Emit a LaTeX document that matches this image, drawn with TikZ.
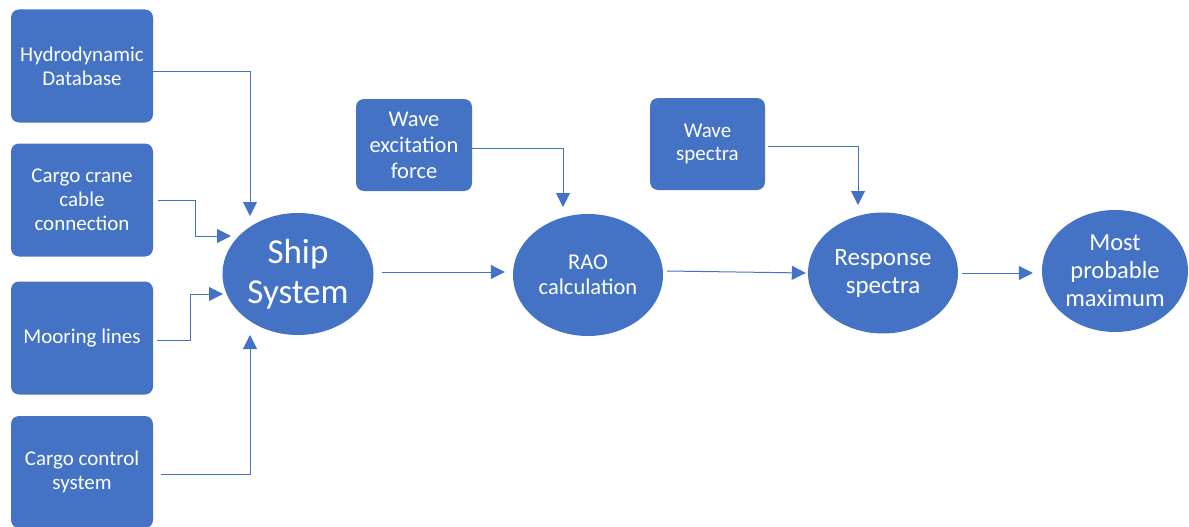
\documentclass[tikz,border=0pt]{standalone}
\usepackage{fontspec}
\setmainfont{Carlito}
\usetikzlibrary{arrows.meta,shapes.geometric}
\definecolor{ofblue}{HTML}{4472C4}
\begin{document}
\begin{tikzpicture}[x=1pt,y=-1pt,
  box/.style={fill=ofblue, rounded corners=8pt, text=white, align=center,
    inner sep=0pt, font=\fontsize{21}{24}\selectfont},
  oval/.style={ellipse, fill=ofblue, text=white, align=center, inner sep=0pt,
    font=\fontsize{25}{28}\selectfont},
  arr/.style={draw=ofblue, line width=1pt, -{Triangle[length=14pt,width=14pt]}}]
\useasboundingbox (0,0) rectangle (1189,527);

% input boxes on the left
\node[box, minimum width=142pt, minimum height=113pt] (hydro) at (82,66) {Hydrodynamic\\Database};
\node[box, minimum width=142pt, minimum height=113pt] (crane) at (82,200) {Cargo crane\\cable\\connection};
\node[box, minimum width=142pt, minimum height=113pt] (moor) at (82,338) {Mooring lines};
\node[box, minimum width=142pt, minimum height=112pt] (ctrl) at (82,472) {Cargo control\\system};

% upper input boxes
\node[box, minimum width=116pt, minimum height=92pt, font=\fontsize{22.5}{26}\selectfont] (wexc) at (414,145) {Wave\\excitation\\force};
\node[box, minimum width=115pt, minimum height=92pt, font=\fontsize{21}{23}\selectfont] (wspec) at (707.5,144) {Wave\\spectra};

% processing chain
\node[oval, minimum width=151pt, minimum height=122pt, font=\fontsize{35}{40}\selectfont] (ship) at (298,274) {Ship\\System};
\node[oval, minimum width=150pt, minimum height=122pt, font=\fontsize{22.5}{25}\selectfont] (rao) at (588,275) {RAO\\calculation};
\node[oval, minimum width=150pt, minimum height=121pt] (resp) at (883,273) {Response\\spectra};
\node[oval, minimum width=146pt, minimum height=122pt, font=\fontsize{24.5}{28}\selectfont] (mpm) at (1115,271) {Most\\probable\\maximum};

% arrow tip points
\coordinate (t1) at (250,216);
\coordinate (t2) at (231,236);
\coordinate (t3) at (223,294);
\coordinate (t4) at (250,335);
\coordinate (t5) at (563,207);
\coordinate (t6) at (858,205);

% connectors
\draw[arr] ([yshift=-6pt]hydro.east) -| (t1);
\draw[arr] ([xshift=5pt]crane.east) -- ++(37,0) |- (t2);
\draw[arr] ([xshift=4pt,yshift=-2pt]moor.east) -- ++(33,0) |- (t3);
\draw[arr] ([xshift=8pt,yshift=-2pt]ctrl.east) -| (t4);
\draw[arr] ([yshift=-3pt]wexc.east) -| (t5);
\draw[arr] ([xshift=3pt,yshift=-2pt]wspec.east) -| (t6);
\draw[arr] ([xshift=8pt,yshift=2pt]ship.east) -- ([xshift=-8pt,yshift=3pt]rao.west);
\draw[arr] ([xshift=4pt,yshift=4pt]rao.east) -- ([xshift=-2pt]resp.west);
\draw[arr] ([xshift=4pt]resp.east) -- ([xshift=-9pt,yshift=-2pt]mpm.west);
\end{tikzpicture}
\end{document}
